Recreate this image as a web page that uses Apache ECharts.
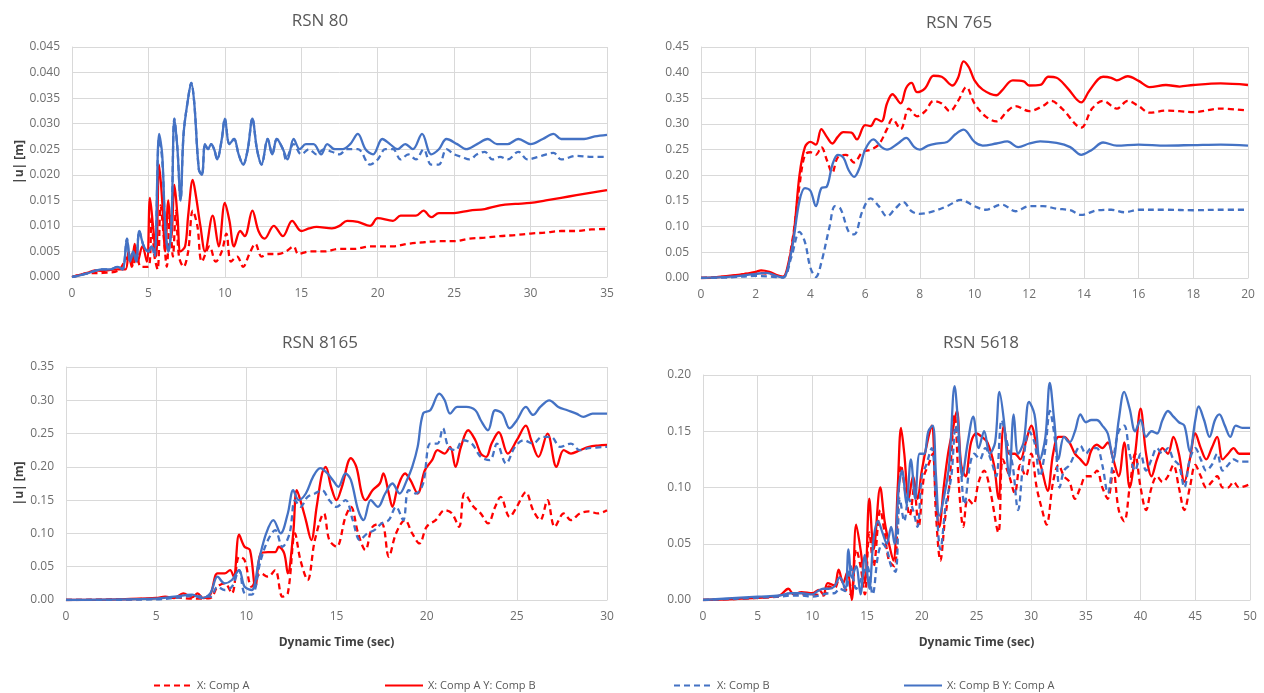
<!DOCTYPE html>
<html>
<head>
<meta charset="utf-8">
<title>RSN displacement histories</title>
<script src="https://cdn.jsdelivr.net/npm/echarts@6/dist/echarts.min.js"></script>
<style>
  html, body { margin: 0; padding: 0; background: #fff; }
  #chart { width: 1264px; height: 693px; }
</style>
</head>
<body>
<div id="chart"></div>
<script>
// legend / series names
const seriesNames = ['X: Comp A', 'X: Comp A Y: Comp B', 'X: Comp B', 'X: Comp B Y: Comp A'];
const titles = ['RSN 80', 'RSN 765', 'RSN 8165', 'RSN 5618'];

// axis ranges [min, max, interval]
const xRanges = [[0, 35, 5], [0, 20, 2], [0, 30, 5], [0, 50, 5]];
const yRanges = [[0, 0.045, 0.005], [0, 0.45, 0.05], [0, 0.35, 0.05], [0, 0.20, 0.05]];
const yDecimals = [3, 2, 2, 2];

// ---- RSN 80 ----  [time (sec), |u| (m)]
const rsn80CompA = [[0,0],[1,0.0007],[2,0.0008],[3,0.0012],[3.7,0.004],[4,0.002],[4.2,0.006],[4.5,0.002],[5,0.002],[5.2,0.0115],[5.4,0.004],[5.6,0.0015],[5.8,0.014],[6,0.008],[6.2,0.002],[6.4,0.012],[6.6,0.004],[6.8,0.013],[7,0.004],[7.3,0.002],[7.6,0.005],[7.9,0.013],[8.2,0.01],[8.5,0.003],[9,0.006],[9.4,0.003],[9.8,0.005],[10.1,0.0085],[10.4,0.003],[10.8,0.004],[11.2,0.002],[11.6,0.0045],[12,0.0065],[12.4,0.004],[12.8,0.0045],[13.5,0.0045],[14,0.005],[14.5,0.006],[14.8,0.0045],[15.5,0.005],[16.5,0.005],[17.5,0.0055],[18.5,0.0055],[19.5,0.006],[20,0.006],[21,0.006],[22,0.0065],[23,0.0068],[24,0.007],[25,0.007],[26,0.0075],[27,0.0077],[28,0.008],[29,0.0082],[30,0.0085],[31,0.0087],[32,0.009],[33,0.009],[34,0.0093],[35,0.0094]];
const rsn80CompAB = [[0,0],[1,0.0008],[1.5,0.0013],[2,0.0012],[2.5,0.0014],[3,0.0015],[3.5,0.0015],[3.7,0.005],[3.9,0.002],[4.1,0.0065],[4.3,0.003],[4.6,0.006],[4.9,0.003],[5.1,0.0155],[5.3,0.01],[5.5,0.004],[5.7,0.022],[5.9,0.015],[6.1,0.005],[6.3,0.015],[6.5,0.008],[6.7,0.018],[6.9,0.012],[7.1,0.005],[7.4,0.006],[7.6,0.012],[7.9,0.019],[8.1,0.016],[8.4,0.01],[8.7,0.005],[9.2,0.012],[9.6,0.006],[10,0.0145],[10.3,0.011],[10.6,0.006],[11,0.009],[11.3,0.008],[11.8,0.013],[12.2,0.009],[12.6,0.0075],[13.2,0.01],[13.8,0.008],[14.4,0.011],[15,0.009],[15.5,0.0095],[16,0.0098],[17,0.0095],[17.5,0.01],[18,0.011],[18.7,0.0108],[19.5,0.01],[20,0.0115],[21,0.011],[21.5,0.012],[22.5,0.012],[23,0.013],[23.5,0.0117],[24,0.0125],[25,0.0125],[26,0.013],[27,0.0133],[28,0.014],[29,0.0143],[30,0.0145],[31,0.015],[32,0.0155],[33,0.016],[34,0.0165],[35,0.017]];
const rsn80CompB = [[0,0],[0.5,0.0003],[1,0.0007],[1.5,0.0012],[2,0.0015],[2.5,0.0015],[3,0.002],[3.3,0.0015],[3.6,0.0075],[3.8,0.003],[4,0.005],[4.2,0.003],[4.4,0.009],[4.7,0.006],[5,0.005],[5.2,0.006],[5.4,0.004],[5.7,0.027],[5.9,0.023],[6.1,0.01],[6.3,0.005],[6.5,0.01],[6.7,0.031],[6.9,0.025],[7.1,0.015],[7.3,0.028],[7.6,0.035],[7.8,0.038],[8,0.034],[8.3,0.021],[8.5,0.02],[8.7,0.026],[8.9,0.025],[9.1,0.026],[9.3,0.025],[9.5,0.023],[9.8,0.027],[10,0.031],[10.3,0.026],[10.6,0.027],[10.9,0.024],[11.2,0.022],[11.5,0.025],[11.8,0.031],[12.1,0.025],[12.4,0.022],[12.8,0.027],[13.1,0.024],[13.4,0.027],[13.8,0.025],[14,0.023],[14.5,0.026],[15,0.024],[15.5,0.025],[16,0.024],[16.5,0.025],[17,0.0245],[17.5,0.024],[18,0.025],[18.7,0.025],[19.5,0.022],[20,0.023],[20.5,0.025],[21,0.025],[21.5,0.023],[22,0.024],[22.5,0.023],[23,0.025],[23.5,0.022],[24,0.022],[24.5,0.025],[25,0.024],[25.5,0.0235],[26,0.023],[26.5,0.024],[27,0.0245],[27.5,0.023],[28,0.0235],[28.5,0.023],[29.2,0.0245],[29.8,0.023],[30.5,0.0235],[31.5,0.0243],[32,0.023],[33,0.0237],[34,0.0235],[35,0.0235]];
const rsn80CompBA = [[0,0],[0.5,0.0003],[1,0.0007],[1.5,0.0012],[2,0.0015],[2.5,0.0015],[3,0.002],[3.3,0.0015],[3.6,0.0075],[3.8,0.003],[4,0.005],[4.2,0.003],[4.4,0.009],[4.7,0.006],[5,0.005],[5.2,0.006],[5.4,0.005],[5.7,0.028],[5.9,0.024],[6.1,0.01],[6.3,0.005],[6.5,0.01],[6.7,0.031],[6.9,0.025],[7.1,0.015],[7.3,0.028],[7.6,0.035],[7.8,0.038],[8,0.034],[8.3,0.021],[8.5,0.02],[8.7,0.026],[8.9,0.025],[9.1,0.026],[9.3,0.025],[9.5,0.023],[9.8,0.027],[10,0.031],[10.3,0.026],[10.6,0.027],[10.9,0.024],[11.2,0.022],[11.5,0.025],[11.8,0.031],[12.1,0.025],[12.4,0.022],[12.8,0.027],[13.1,0.024],[13.4,0.027],[13.8,0.025],[14.1,0.023],[14.5,0.027],[14.9,0.025],[15.3,0.026],[15.8,0.026],[16.3,0.024],[16.7,0.026],[17.2,0.025],[17.7,0.025],[18.2,0.026],[18.7,0.028],[19.2,0.025],[19.7,0.024],[20.3,0.027],[20.8,0.026],[21.3,0.025],[21.8,0.026],[22.3,0.025],[22.9,0.028],[23.5,0.024],[24,0.025],[24.5,0.027],[25.2,0.026],[25.8,0.025],[26.5,0.026],[27.2,0.027],[27.8,0.026],[28.5,0.026],[29.2,0.027],[30,0.026],[30.8,0.027],[31.5,0.028],[32,0.027],[32.8,0.027],[33.5,0.027],[34.2,0.0275],[35,0.0278]];

// ---- RSN 765 ----
const rsn765CompA = [[0,0],[1,0.003],[2,0.01],[2.5,0.008],[3,0.002],[3.3,0.06],[3.6,0.18],[3.8,0.24],[4,0.245],[4.2,0.24],[4.4,0.255],[4.6,0.23],[4.8,0.205],[5,0.235],[5.3,0.24],[5.6,0.225],[5.9,0.245],[6.2,0.25],[6.5,0.26],[6.8,0.29],[7,0.31],[7.3,0.29],[7.6,0.33],[7.9,0.315],[8.2,0.325],[8.5,0.345],[8.8,0.34],[9.1,0.325],[9.4,0.345],[9.7,0.372],[10,0.34],[10.4,0.315],[10.8,0.305],[11.2,0.325],[11.5,0.335],[12,0.325],[12.5,0.335],[12.8,0.345],[13.2,0.33],[13.9,0.293],[14.3,0.33],[14.7,0.345],[15.2,0.33],[15.6,0.345],[16,0.335],[16.4,0.322],[17,0.326],[17.5,0.325],[18,0.323],[19,0.33],[20,0.326]];
const rsn765CompAB = [[0,0],[0.5,0.001],[1,0.004],[1.5,0.007],[2,0.012],[2.2,0.015],[2.5,0.012],[2.8,0.005],[3,0.002],[3.2,0.03],[3.4,0.09],[3.6,0.2],[3.8,0.255],[4,0.265],[4.2,0.26],[4.4,0.29],[4.6,0.275],[4.8,0.262],[5,0.275],[5.2,0.284],[5.5,0.283],[5.7,0.27],[6,0.298],[6.2,0.296],[6.4,0.31],[6.6,0.305],[6.8,0.34],[7,0.358],[7.3,0.34],[7.5,0.37],[7.7,0.38],[7.9,0.362],[8.2,0.37],[8.5,0.394],[8.8,0.392],[9.2,0.375],[9.4,0.39],[9.6,0.422],[9.8,0.41],[10,0.385],[10.3,0.367],[10.8,0.356],[11,0.365],[11.4,0.385],[11.8,0.383],[12,0.375],[12.4,0.376],[12.7,0.392],[13,0.39],[13.4,0.37],[13.9,0.342],[14.2,0.365],[14.7,0.392],[15,0.39],[15.2,0.385],[15.6,0.393],[16,0.384],[16.4,0.372],[17,0.376],[17.5,0.373],[18,0.376],[19,0.379],[20,0.376]];
const rsn765CompB = [[0,0],[1,0.001],[2,0.004],[2.5,0.003],[3,0.001],[3.3,0.04],[3.6,0.09],[3.8,0.07],[4,0.02],[4.2,0.002],[4.4,0.03],[4.7,0.1],[4.9,0.14],[5.1,0.135],[5.4,0.09],[5.6,0.085],[5.9,0.13],[6.2,0.155],[6.5,0.14],[6.8,0.12],[7.1,0.135],[7.4,0.148],[7.7,0.13],[8,0.125],[8.5,0.13],[9,0.14],[9.5,0.152],[10,0.14],[10.4,0.133],[11,0.143],[11.5,0.13],[12,0.14],[12.5,0.14],[13,0.135],[13.5,0.132],[13.9,0.123],[14.5,0.132],[15,0.133],[15.5,0.128],[16,0.133],[17,0.133],[18,0.132],[19,0.133],[20,0.133]];
const rsn765CompBA = [[0,0],[1,0.002],[2,0.008],[2.4,0.01],[2.8,0.003],[3,0.001],[3.3,0.05],[3.6,0.15],[3.8,0.175],[4,0.17],[4.2,0.14],[4.4,0.175],[4.6,0.178],[4.8,0.22],[5,0.24],[5.2,0.235],[5.4,0.21],[5.6,0.197],[5.8,0.215],[6,0.25],[6.3,0.27],[6.6,0.255],[6.8,0.25],[7.2,0.262],[7.5,0.273],[7.8,0.255],[8,0.25],[8.3,0.258],[8.6,0.262],[9,0.265],[9.3,0.28],[9.6,0.289],[10,0.265],[10.3,0.258],[10.8,0.262],[11.2,0.266],[11.6,0.255],[12,0.262],[12.4,0.266],[13,0.263],[13.5,0.255],[13.9,0.24],[14.3,0.25],[14.7,0.264],[15.2,0.258],[16,0.26],[17,0.258],[18,0.259],[19,0.26],[20,0.258]];

// ---- RSN 8165 ----
const rsn8165CompA = [[0,0],[5,0.002],[6,0.004],[7,0.002],[8,0.003],[8.4,0.02],[8.8,0.025],[9.2,0.01],[9.6,0.065],[9.9,0.06],[10.3,0.02],[10.8,0.04],[11.2,0.035],[11.6,0.045],[12,0.005],[12.3,0.01],[12.7,0.1],[13,0.06],[13.4,0.03],[13.8,0.09],[14.3,0.13],[14.6,0.09],[15,0.08],[15.5,0.125],[15.8,0.14],[16.2,0.1],[16.6,0.075],[17,0.11],[17.5,0.115],[17.9,0.065],[18.3,0.1],[18.8,0.12],[19.2,0.1],[19.6,0.085],[20,0.11],[20.5,0.12],[21,0.135],[21.4,0.13],[21.8,0.11],[22.1,0.16],[22.6,0.14],[23,0.13],[23.4,0.115],[23.8,0.14],[24.1,0.155],[24.6,0.125],[25,0.14],[25.5,0.162],[25.9,0.135],[26.3,0.12],[26.7,0.15],[27.1,0.11],[27.6,0.13],[28,0.12],[28.5,0.13],[29,0.133],[29.5,0.13],[30,0.135]];
const rsn8165CompAB = [[0,0],[3,0.001],[5,0.003],[5.5,0.005],[6,0.003],[6.5,0.01],[7,0.004],[7.3,0.01],[7.6,0.003],[8,0.008],[8.4,0.04],[8.8,0.04],[9.1,0.045],[9.3,0.035],[9.6,0.098],[9.9,0.08],[10.2,0.075],[10.5,0.02],[10.8,0.07],[11.2,0.072],[11.6,0.072],[11.8,0.08],[12.1,0.07],[12.3,0.04],[12.6,0.1],[12.8,0.165],[13.1,0.14],[13.3,0.12],[13.6,0.09],[13.9,0.14],[14.2,0.19],[14.4,0.2],[14.7,0.17],[15,0.15],[15.3,0.17],[15.8,0.213],[16.1,0.2],[16.4,0.16],[16.6,0.15],[17,0.165],[17.4,0.175],[17.6,0.19],[17.9,0.16],[18.1,0.14],[18.4,0.17],[18.8,0.19],[19.1,0.18],[19.5,0.16],[19.9,0.195],[20.3,0.21],[20.6,0.225],[21,0.22],[21.3,0.23],[21.6,0.2],[21.9,0.23],[22.3,0.255],[22.7,0.24],[23,0.22],[23.3,0.215],[23.6,0.235],[24,0.252],[24.5,0.22],[25,0.24],[25.5,0.262],[25.8,0.24],[26.2,0.215],[26.7,0.25],[27.2,0.2],[27.6,0.225],[28,0.22],[28.5,0.225],[29,0.23],[29.5,0.232],[30,0.233]];
const rsn8165CompB = [[0,0],[5,0.001],[6,0.003],[7,0.006],[8,0.005],[8.4,0.02],[8.8,0.015],[9.2,0.02],[9.6,0.045],[9.9,0.01],[10.3,0.008],[10.8,0.06],[11.2,0.09],[11.6,0.105],[12,0.08],[12.4,0.1],[12.7,0.15],[13,0.14],[13.4,0.155],[13.8,0.16],[14.2,0.165],[14.6,0.15],[15,0.14],[15.5,0.15],[15.9,0.12],[16.3,0.09],[16.7,0.1],[17.1,0.105],[17.5,0.115],[17.9,0.12],[18.3,0.14],[18.7,0.12],[19,0.165],[19.4,0.16],[19.8,0.175],[20.2,0.235],[20.6,0.235],[20.9,0.258],[21.2,0.23],[21.6,0.225],[22,0.24],[22.5,0.235],[23,0.215],[23.5,0.21],[23.9,0.235],[24.4,0.205],[24.9,0.23],[25.4,0.24],[25.9,0.235],[26.4,0.245],[26.9,0.245],[27.4,0.23],[28,0.235],[28.5,0.225],[29,0.228],[30,0.23]];
const rsn8165CompBA = [[0,0],[5,0.002],[6,0.005],[7,0.008],[7.5,0.003],[8,0.01],[8.4,0.035],[8.8,0.025],[9.2,0.03],[9.6,0.045],[9.9,0.02],[10.3,0.015],[10.7,0.06],[11.1,0.1],[11.5,0.12],[11.9,0.1],[12.3,0.13],[12.6,0.165],[12.9,0.15],[13.3,0.16],[13.7,0.185],[14.1,0.198],[14.5,0.19],[14.8,0.18],[15.1,0.17],[15.5,0.19],[15.8,0.18],[16.2,0.135],[16.5,0.12],[16.9,0.15],[17.3,0.14],[17.7,0.16],[18.1,0.175],[18.5,0.16],[18.9,0.18],[19.2,0.2],[19.5,0.23],[19.8,0.28],[20.2,0.285],[20.7,0.31],[21,0.3],[21.3,0.28],[21.7,0.29],[22.2,0.29],[22.7,0.285],[23,0.27],[23.4,0.255],[23.8,0.285],[24.2,0.28],[24.6,0.258],[25,0.27],[25.5,0.29],[25.9,0.278],[26.3,0.29],[26.8,0.3],[27.3,0.29],[27.8,0.285],[28.3,0.28],[28.7,0.275],[29.2,0.28],[30,0.28]];

// ---- RSN 5618 ----
const rsn5618CompA = [[0,0],[7,0.003],[8,0.006],[9,0.005],[10,0.005],[11,0.004],[11.5,0.012],[12,0.01],[12.5,0.02],[13,0.01],[13.5,0.005],[14,0.045],[14.4,0.03],[14.8,0.005],[15.2,0.06],[15.6,0.03],[16.2,0.08],[16.6,0.06],[17,0.035],[17.5,0.03],[17.8,0.08],[18.1,0.12],[18.5,0.095],[18.9,0.075],[19.3,0.1],[19.7,0.065],[20.2,0.11],[20.6,0.12],[21,0.13],[21.3,0.075],[21.7,0.035],[22.1,0.07],[22.5,0.1],[23,0.165],[23.4,0.1],[23.8,0.065],[24.2,0.09],[24.7,0.085],[25.2,0.105],[25.7,0.115],[26.2,0.1],[27,0.06],[27.4,0.125],[28,0.11],[28.5,0.095],[29,0.12],[29.5,0.11],[30,0.13],[30.5,0.1],[31,0.08],[31.4,0.067],[32,0.105],[32.5,0.12],[33,0.11],[33.5,0.105],[34,0.09],[34.5,0.1],[35,0.11],[35.5,0.11],[36,0.115],[36.5,0.1],[37,0.09],[37.5,0.115],[38,0.08],[38.5,0.07],[39,0.1],[39.5,0.13],[40,0.1],[40.5,0.08],[41,0.1],[41.5,0.11],[42,0.105],[42.5,0.11],[43,0.12],[43.5,0.1],[44,0.08],[44.5,0.1],[45,0.12],[45.5,0.11],[46,0.1],[46.5,0.105],[47,0.11],[47.5,0.1],[48,0.1],[48.5,0.105],[49,0.1],[50,0.103]];
const rsn5618CompAB = [[0,0],[5,0.002],[7,0.004],[7.8,0.01],[8.3,0.005],[9,0.007],[10,0.006],[10.6,0.009],[11,0.005],[11.4,0.015],[12,0.013],[12.4,0.027],[12.8,0.015],[13.2,0.025],[13.6,0],[14,0.067],[14.4,0.045],[14.8,0.015],[15.2,0.09],[15.6,0.045],[16.2,0.1],[16.6,0.07],[17,0.05],[17.4,0.035],[17.8,0.1],[18.1,0.153],[18.4,0.13],[18.8,0.09],[19.2,0.11],[19.6,0.09],[20,0.115],[20.5,0.14],[20.9,0.155],[21.3,0.09],[21.6,0.065],[22,0.1],[22.4,0.13],[22.8,0.15],[23.2,0.168],[23.6,0.12],[24,0.11],[24.5,0.14],[25,0.148],[25.5,0.145],[26,0.14],[26.6,0.12],[27,0.09],[27.5,0.155],[28,0.13],[28.5,0.13],[29,0.125],[29.5,0.14],[30,0.155],[30.6,0.13],[31,0.115],[31.5,0.097],[32,0.13],[32.5,0.145],[33,0.145],[33.5,0.14],[34,0.13],[34.5,0.125],[35,0.12],[35.5,0.133],[36,0.138],[36.5,0.135],[37,0.14],[37.5,0.125],[38,0.11],[38.5,0.14],[39,0.1],[39.5,0.13],[40,0.17],[40.5,0.13],[41,0.11],[41.5,0.125],[42,0.135],[42.5,0.13],[43,0.145],[43.5,0.13],[44,0.105],[44.5,0.125],[45,0.148],[45.5,0.135],[46,0.125],[46.5,0.135],[47,0.145],[47.5,0.125],[48,0.13],[48.5,0.135],[49,0.13],[50,0.13]];
const rsn5618CompB = [[0,0],[7,0.003],[8,0.004],[9,0.004],[10,0.003],[11,0.005],[11.5,0.006],[12,0.006],[12.5,0.01],[13,0.008],[13.5,0.03],[14,0.01],[14.5,0.02],[15,0.03],[15.5,0.005],[16,0.04],[16.4,0.05],[16.8,0.045],[17.2,0.03],[17.6,0.025],[18,0.09],[18.4,0.07],[18.8,0.09],[19.2,0.08],[19.6,0.065],[20,0.11],[20.4,0.12],[20.9,0.135],[21.3,0.09],[21.7,0.045],[22.2,0.085],[22.7,0.11],[23.1,0.155],[23.5,0.125],[23.9,0.085],[24.4,0.12],[24.8,0.13],[25.3,0.125],[25.8,0.135],[26.3,0.125],[26.8,0.11],[27.3,0.16],[27.8,0.14],[28.3,0.12],[28.8,0.08],[29.3,0.125],[29.8,0.15],[30.3,0.14],[30.8,0.11],[31.3,0.135],[31.7,0.168],[32.2,0.14],[32.6,0.1],[33,0.115],[33.5,0.12],[34,0.13],[34.5,0.137],[35,0.13],[35.5,0.135],[36,0.135],[36.5,0.12],[37,0.095],[37.5,0.125],[38,0.15],[38.5,0.155],[39,0.13],[39.5,0.115],[40,0.13],[40.5,0.115],[41,0.125],[41.5,0.135],[42,0.13],[42.5,0.135],[43,0.125],[43.5,0.12],[44,0.1],[44.5,0.125],[45,0.135],[45.5,0.125],[46,0.115],[46.5,0.12],[47,0.13],[47.5,0.115],[48,0.12],[48.5,0.125],[49,0.123],[50,0.123]];
const rsn5618CompBA = [[0,0],[5,0.003],[7,0.004],[8,0.006],[9,0.006],[10,0.005],[10.5,0.008],[11,0.01],[11.5,0.01],[12,0.012],[12.5,0.02],[13,0.01],[13.3,0.045],[13.6,0.02],[14,0.03],[14.4,0.005],[14.8,0.04],[15.2,0.01],[15.6,0.055],[16,0.07],[16.4,0.06],[16.8,0.05],[17.2,0.065],[17.5,0.05],[17.9,0.1],[18.2,0.115],[18.6,0.085],[19,0.125],[19.4,0.09],[19.8,0.13],[20.2,0.13],[20.6,0.15],[21,0.155],[21.3,0.11],[21.6,0.075],[22,0.09],[22.5,0.12],[23,0.19],[23.3,0.16],[23.7,0.11],[24.2,0.14],[24.7,0.163],[25.2,0.135],[25.7,0.15],[26.2,0.13],[26.7,0.14],[27.1,0.185],[27.5,0.16],[28,0.11],[28.4,0.165],[28.8,0.13],[29.3,0.14],[29.8,0.176],[30.3,0.165],[30.8,0.125],[31.3,0.145],[31.7,0.193],[32.1,0.16],[32.5,0.125],[33,0.145],[33.5,0.14],[34,0.15],[34.5,0.165],[35,0.158],[35.5,0.16],[36,0.16],[36.5,0.155],[37,0.148],[37.5,0.125],[38,0.16],[38.5,0.185],[39,0.17],[39.5,0.15],[40,0.16],[40.5,0.145],[41,0.15],[41.5,0.148],[42,0.16],[42.5,0.168],[43,0.163],[43.5,0.158],[44,0.155],[44.5,0.132],[45,0.16],[45.3,0.172],[45.8,0.16],[46.3,0.145],[46.8,0.16],[47.2,0.165],[47.7,0.155],[48.2,0.145],[48.7,0.155],[49.3,0.153],[50,0.153]];

const chartData = [
    [rsn80CompA, rsn80CompAB, rsn80CompB, rsn80CompBA],
    [rsn765CompA, rsn765CompAB, rsn765CompB, rsn765CompBA],
    [rsn8165CompA, rsn8165CompAB, rsn8165CompB, rsn8165CompBA],
    [rsn5618CompA, rsn5618CompAB, rsn5618CompB, rsn5618CompBA]
];

const RED = '#FF0000';
const BLUE = '#4472C4';
const lineColors = [RED, RED, BLUE, BLUE];
const lineDashed = [true, false, true, false];
const FONT = "'Open Sans', 'Noto Sans', sans-serif";
const GRID_COLOR = '#d9d9d9';

// plot areas (pixels)
const grids = [
    { left: 72, top: 47, width: 535, height: 230 },
    { left: 701, top: 47, width: 547, height: 231 },
    { left: 66, top: 367, width: 541, height: 233 },
    { left: 703, top: 375, width: 547, height: 225 }
];
const titlePos = [[315, 8], [954, 10], [315, 330], [976, 330]];

const myChart = echarts.init(document.getElementById('chart'));

const xAxes = grids.map((g, i) => ({
    type: 'value',
    gridIndex: i,
    min: xRanges[i][0], max: xRanges[i][1], interval: xRanges[i][2],
    name: i >= 2 ? 'Dynamic Time (sec)' : '',
    nameLocation: 'middle',
    nameGap: 37,
    nameTextStyle: { fontFamily: FONT, fontSize: 12, fontWeight: 'bold', color: '#404040' },
    axisLine: { lineStyle: { color: GRID_COLOR } },
    axisTick: { show: false },
    axisLabel: { color: '#6e6e6e', fontFamily: FONT, fontSize: 12, margin: 11 },
    splitLine: { lineStyle: { color: GRID_COLOR, width: 1 } }
}));

const yAxes = grids.map((g, i) => ({
    type: 'value',
    gridIndex: i,
    min: yRanges[i][0], max: yRanges[i][1], interval: yRanges[i][2],
    name: (i === 0 || i === 2) ? '|u| [m]' : '',
    nameLocation: 'middle',
    nameGap: i === 0 ? 46 : 40,
    nameTextStyle: { fontFamily: FONT, fontSize: 12, fontWeight: 'bold', color: '#404040' },
    axisLine: { show: true, lineStyle: { color: GRID_COLOR } },
    axisTick: { show: false },
    axisLabel: {
        color: '#6e6e6e', fontFamily: FONT, fontSize: 12, margin: 12,
        formatter: v => v.toFixed(yDecimals[i])
    },
    splitLine: { lineStyle: { color: GRID_COLOR, width: 1 } }
}));

const series = [];
chartData.forEach((lines, gi) => {
    lines.forEach((pts, si) => {
        series.push({
            name: seriesNames[si],
            type: 'line',
            xAxisIndex: gi,
            yAxisIndex: gi,
            data: pts,
            symbol: 'none',
            smooth: 0.35,
            z: si === 3 ? 4 : si + 1,
            lineStyle: {
                color: lineColors[si],
                width: 2.3,
                type: lineDashed[si] ? [6, 4] : 'solid'
            },
            itemStyle: { color: lineColors[si] }
        });
    });
});

// one legend per item, to place them like the original
const legendLeft = [148, 379, 668, 898];
const legends = seriesNames.map((n, i) => ({
    data: [n],
    left: legendLeft[i],
    top: 675,
    itemWidth: 38,
    itemHeight: 10,
    itemGap: 3,
    itemStyle: { opacity: 0 },
    textStyle: { fontFamily: FONT, fontSize: 11, color: '#595959' }
}));

myChart.setOption({
    animation: false,
    backgroundColor: '#ffffff',
    title: titles.map((t, i) => ({
        text: t,
        left: titlePos[i][0],
        top: titlePos[i][1],
        textAlign: 'center',
        textStyle: { fontFamily: FONT, fontSize: 17, fontWeight: 'normal', color: '#595959' }
    })),
    legend: legends,
    grid: grids,
    xAxis: xAxes,
    yAxis: yAxes,
    series: series
});
</script>
</body>
</html>
